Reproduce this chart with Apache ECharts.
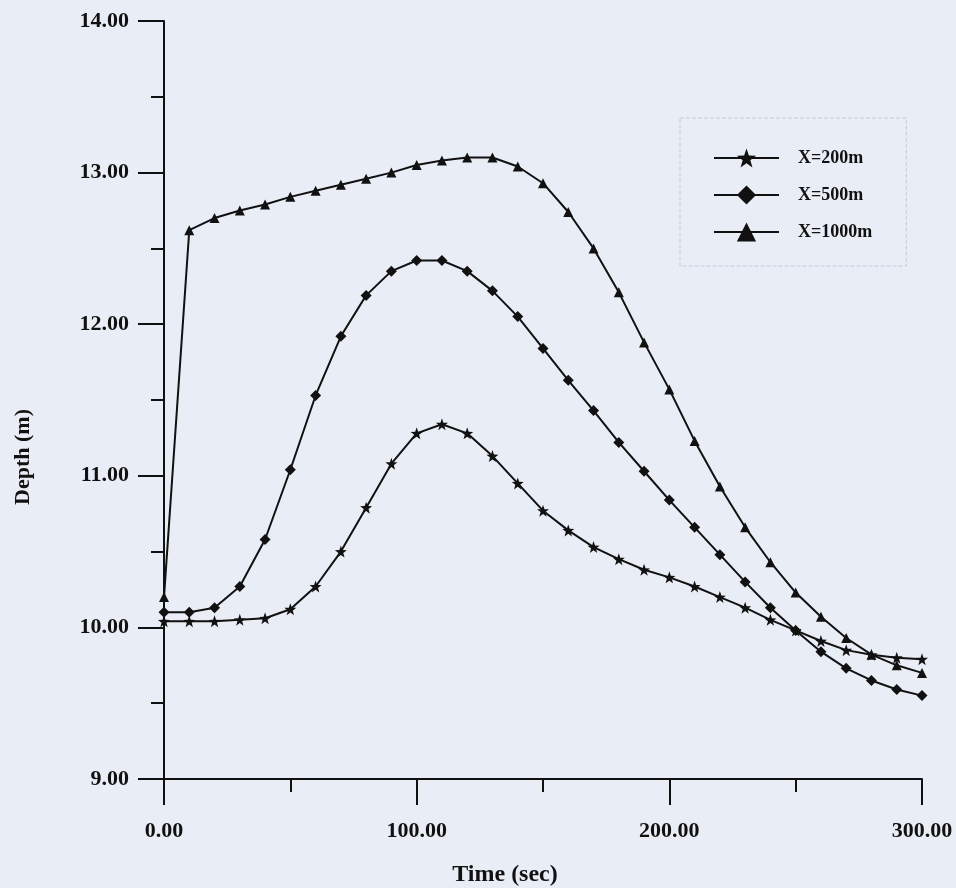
<!DOCTYPE html>
<html>
<head>
<meta charset="utf-8">
<title>Depth vs Time</title>
<script src="https://cdn.jsdelivr.net/npm/echarts@6/dist/echarts.min.js"></script>
<style>
  html, body { margin: 0; padding: 0; background: #e9eef6; }
  #depthChart { width: 956px; height: 888px; }
</style>
</head>
<body>
<div id="depthChart"></div>
<script>
// time steps (sec), every 10 s
const times = [0, 10, 20, 30, 40, 50, 60, 70, 80, 90, 100, 110, 120, 130, 140, 150,
  160, 170, 180, 190, 200, 210, 220, 230, 240, 250, 260, 270, 280, 290, 300]

// depth (m) at each section
const depth200 = [10.04, 10.04, 10.04, 10.05, 10.06, 10.12, 10.27, 10.50, 10.79, 11.08, 11.28,
  11.34, 11.28, 11.13, 10.95, 10.77, 10.64, 10.53, 10.45, 10.38, 10.33,
  10.27, 10.20, 10.13, 10.05, 9.98, 9.91, 9.85, 9.82, 9.80, 9.79]
const depth500 = [10.10, 10.10, 10.13, 10.27, 10.58, 11.04, 11.53, 11.92, 12.19, 12.35, 12.42,
  12.42, 12.35, 12.22, 12.05, 11.84, 11.63, 11.43, 11.22, 11.03, 10.84,
  10.66, 10.48, 10.30, 10.13, 9.98, 9.84, 9.73, 9.65, 9.59, 9.55]
const depth1000 = [10.20, 12.62, 12.70, 12.75, 12.79, 12.84, 12.88, 12.92, 12.96, 13.00, 13.05,
  13.08, 13.10, 13.10, 13.04, 12.93, 12.74, 12.50, 12.21, 11.88, 11.57,
  11.23, 10.93, 10.66, 10.43, 10.23, 10.07, 9.93, 9.82, 9.75, 9.70]

const seriesNames = ["X=200m", "X=500m", "X=1000m"]

// axis ticks
const timeTicks = [0, 100, 200, 300]
const depthTicks = [9, 10, 11, 12, 13, 14]

const serif = "'Liberation Serif', 'Times New Roman', serif"
const ink = "#111"
// five point star for the X=200m marker
const starPath = "path://M50 0 L61.76 33.82 L97.55 34.55 L69.02 56.18 L79.39 90.45 L50 70 L20.61 90.45 L30.98 56.18 L2.45 34.55 L38.24 33.82 Z"

function pairs(values) {
  return times.map((t, i) => [t, values[i]])
}

function lineSeries(name, values, symbol, size) {
  return {
    name: name,
    type: "line",
    data: pairs(values),
    symbol: symbol,
    symbolSize: size,
    showSymbol: true,
    lineStyle: { color: ink, width: 2 },
    itemStyle: { color: ink },
    emphasis: { disabled: true }
  }
}

const axisCommon = {
  axisLine: { lineStyle: { color: ink, width: 2 } },
  axisTick: { inside: false, length: 26, lineStyle: { color: ink, width: 2 } },
  minorTick: { show: true, splitNumber: 2, length: 13, lineStyle: { color: ink, width: 2 } },
  splitLine: { show: false },
  axisLabel: {
    color: ink,
    fontFamily: serif,
    fontWeight: "bold",
    fontSize: 22,
    formatter: v => v.toFixed(2)
  }
}

const chart = echarts.init(document.getElementById("depthChart"))
chart.setOption({
  backgroundColor: "#e9eef6",
  animation: false,
  grid: { left: 164, right: 34, top: 21, bottom: 109 },
  xAxis: Object.assign({}, axisCommon, {
    type: "value",
    min: timeTicks[0],
    max: timeTicks[timeTicks.length - 1],
    interval: timeTicks[1] - timeTicks[0],
    axisLabel: Object.assign({}, axisCommon.axisLabel, { margin: 41 })
  }),
  yAxis: Object.assign({}, axisCommon, {
    type: "value",
    min: depthTicks[0],
    max: depthTicks[depthTicks.length - 1],
    interval: depthTicks[1] - depthTicks[0],
    axisLabel: Object.assign({}, axisCommon.axisLabel, { margin: 35 })
  }),
  legend: {
    data: seriesNames,
    orient: "vertical",
    left: 680,
    top: 118,
    padding: [28, 34, 22, 33],
    itemWidth: 65,
    itemHeight: 24,
    itemGap: 13,
    borderColor: "#c3cad6",
    borderWidth: 1,
    borderType: "dashed",
    textStyle: {
      color: ink,
      fontFamily: serif,
      fontWeight: "bold",
      fontSize: 18,
      padding: [0, 0, 0, 14],
      lineHeight: 24
    }
  },
  graphic: [
    {
      type: "text",
      x: 23,
      y: 457,
      rotation: Math.PI / 2,
      style: {
        text: "Depth (m)",
        fill: ink,
        font: "bold 22px " + serif,
        textAlign: "center",
        textVerticalAlign: "middle"
      }
    },
    {
      type: "text",
      x: 505,
      y: 875,
      style: {
        text: "Time (sec)",
        fill: ink,
        font: "bold 24px " + serif,
        textAlign: "center",
        textVerticalAlign: "middle"
      }
    }
  ],
  series: [
    lineSeries(seriesNames[0], depth200, starPath, 12),
    lineSeries(seriesNames[1], depth500, "diamond", 11),
    lineSeries(seriesNames[2], depth1000, "triangle", 10)
  ]
})
</script>
</body>
</html>
